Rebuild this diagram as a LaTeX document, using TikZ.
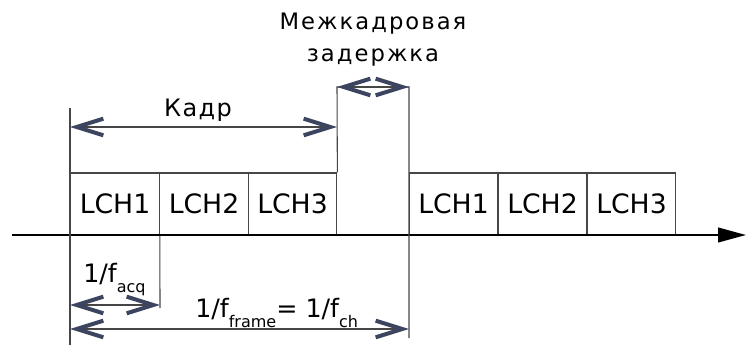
\documentclass[tikz,border=0pt]{standalone}
\usepackage{fontspec}
\setmainfont{DejaVu Sans}
\usetikzlibrary{arrows.meta}
\definecolor{navy}{RGB}{60,68,96}
\definecolor{thin}{RGB}{70,70,70}
\newcommand\lsub[1]{\raisebox{-7pt}{\fontsize{12}{13}\selectfont #1}}

\tikzset{
  lch/.style={draw=thin,line width=0.8pt,minimum width=66.5pt,minimum height=46.5pt,
    inner sep=0pt,font=\fontsize{20}{22}\selectfont},
  span/.style={draw=thin,line width=0.8pt,
    {Straight Barb[length=20pt,width=12.5pt,line width=3pt,color=navy]}-{Straight Barb[length=20pt,width=12.5pt,line width=3pt,color=navy]}},
  guide/.style={draw=thin,line width=0.8pt},
  lbl/.style={font=\fontsize{19}{22}\selectfont,inner sep=0pt},
  ru/.style={font=\fontsize{17}{24}\selectfont\addfontfeature{LetterSpace=9},inner sep=0pt,align=center}
}

\begin{document}
\begin{tikzpicture}[x=0.75pt,y=-0.75pt]
  \useasboundingbox (0,0) rectangle (746,345);

  % first frame
  \node[lch] (a1) at (115,204) {LCH1};
  \node[lch] (a2) at (204,204) {LCH2};
  \node[lch] (a3) at (292.5,204) {LCH3};
  % second frame
  \node[lch] (b1) at (453.5,204) {LCH1};
  \node[lch] (b2) at (542.5,204) {LCH2};
  \node[lch] (b3) at (631.5,204) {LCH3};

  % time axis
  \coordinate (t0) at (12,235);
  \coordinate (t1) at (746,235);
  \draw[line width=1.5pt,-{Triangle[length=21pt,width=11pt]}] (t0) -- (t1);

  % guides
  \coordinate (g0) at (70,108);
  \coordinate (g0b) at (70,345);
  \coordinate (g1) at (337,87);
  \coordinate (g2) at (409,87);
  \coordinate (g2b) at (409,338);
  \coordinate (g3) at (160,308);
  \draw[guide] (g0) -- (g0b);
  \draw[guide] (a3.north east) -- (g1) -- (g2) -- (g2b);
  \draw[guide] (a1.south east) -- (g3);

  % frame
  \coordinate (k0) at (70,127);
  \coordinate (k1) at (337,127);
  \draw[span] (k0) -- (k1);
  \node[lbl,font=\fontsize{18}{22}\selectfont\addfontfeature{LetterSpace=6}] (kadr) at (198,110) {Кадр};

  % inter-frame gap
  \draw[span] (g1) -- (g2);
  \node[ru] (gap) at (373,40) {Межкадровая\\задержка};

  % acquisition period
  \coordinate (q0) at (70,305);
  \coordinate (q1) at (160,305);
  \draw[span] (q0) -- (q1);
  \node[lbl,anchor=base west] (acq) at (83,283) {1/f\lsub{acq}};

  % frame period
  \coordinate (f0) at (70,329);
  \coordinate (f1) at (409,329);
  \draw[span] (f0) -- (f1);
  \node[lbl,anchor=base west] (frm) at (195,318) {1/f\lsub{frame}= 1/f\lsub{ch}};
\end{tikzpicture}
\end{document}
